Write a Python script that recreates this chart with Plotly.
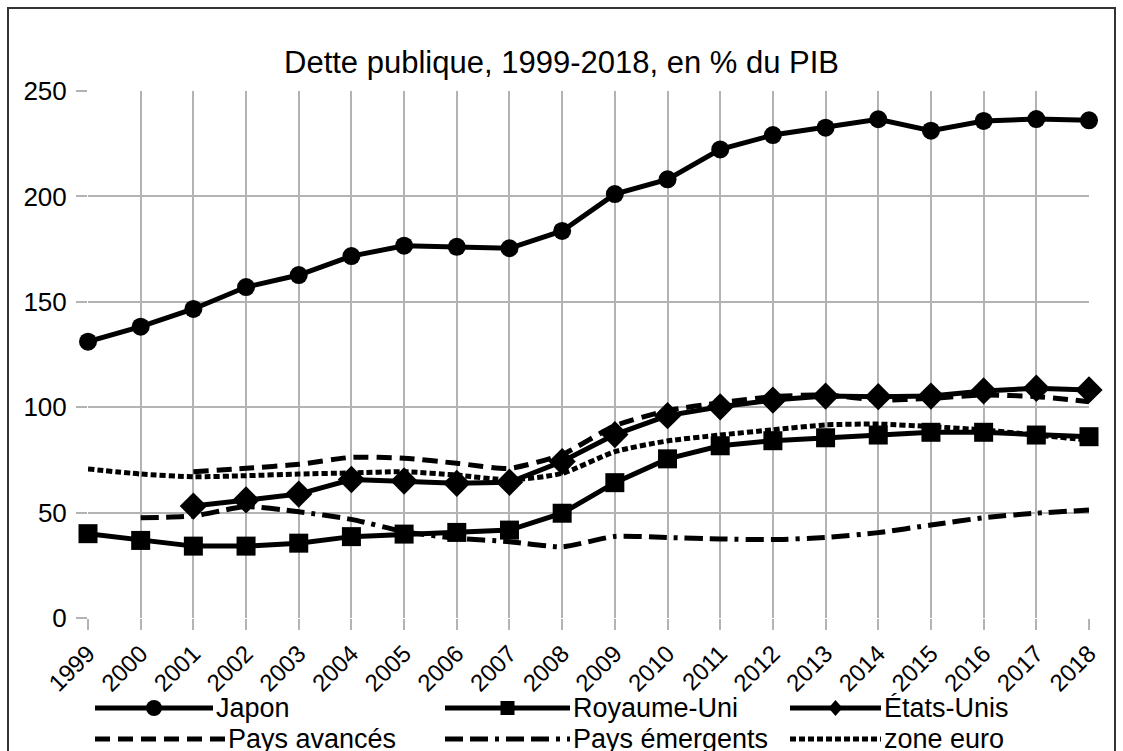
import plotly.graph_objects as go

# Public debt, % of GDP
years = list(range(1999, 2019))
japon = [131.1, 138.2, 146.6, 157.0, 162.7, 171.7, 176.6, 176.1, 175.4, 183.6,
         201.1, 208.1, 222.3, 229.1, 232.6, 236.6, 231.2, 235.8, 236.7, 236.1]
royaume_uni = [40.0, 36.8, 34.1, 34.1, 35.5, 38.6, 39.8, 40.6, 41.7, 49.7,
               64.2, 75.5, 81.7, 84.1, 85.5, 86.8, 88.1, 88.1, 86.8, 86.0]
etats_unis = [None, None, 53.1, 56.0, 58.8, 65.7, 65.0, 63.9, 64.4, 74.2,
              87.0, 96.0, 100.2, 103.4, 105.3, 105.0, 105.3, 107.7, 109.0, 108.2]
pays_avances = [None, None, 69.4, 71.0, 72.9, 76.2, 75.8, 73.4, 71.0, 77.6,
                91.2, 98.4, 102.1, 105.0, 105.8, 103.4, 104.2, 105.8, 105.0, 102.6]
pays_emergents = [None, 47.5, 48.4, 52.8, 50.4, 46.8, 41.0, 37.8, 36.2, 33.8,
                  38.7, 38.2, 37.5, 37.2, 38.2, 40.5, 44.1, 47.6, 49.7, 51.2]
zone_euro = [70.7, 68.3, 67.0, 67.5, 68.3, 68.8, 69.4, 67.8, 65.5, 68.6,
             78.9, 84.0, 86.8, 89.3, 91.6, 92.0, 90.8, 89.2, 86.8, 84.4]

title_text = "Dette publique, 1999-2018, en % du PIB"
y_ticks = [0, 50, 100, 150, 200, 250]

FONT = "Liberation Sans, Arial, sans-serif"
BLACK = "#000000"
GRID = "#b3b3b3"
LW = 5

DASH_AV = "15px,8px"
DASH_EM = "18px,7px,18px,7px,4px,7px"
DASH_EU = "6px,3px"

fig = go.Figure()

# dashed aggregates (smoothed)
for name, vals, dash in [("Pays avancés", pays_avances, DASH_AV),
                         ("Pays émergents", pays_emergents, DASH_EM),
                         ("zone euro", zone_euro, DASH_EU)]:
    fig.add_trace(go.Scatter(
        x=years, y=vals, name=name, mode="lines",
        line=dict(color=BLACK, width=LW, dash=dash, shape="spline", smoothing=0.6),
        connectgaps=False, cliponaxis=False, showlegend=False))

# country series with markers
for name, vals, sym, size in [("Japon", japon, "circle", 18),
                              ("Royaume-Uni", royaume_uni, "square", 19),
                              ("États-Unis", etats_unis, "diamond", 21)]:
    fig.add_trace(go.Scatter(
        x=years, y=vals, name=name, mode="lines+markers",
        line=dict(color=BLACK, width=LW),
        marker=dict(symbol=sym, size=size, color=BLACK),
        cliponaxis=False, showlegend=False))

# plot area geometry (pixels) used for the hand-drawn legend and frame
W, H = 1123, 751
L, R, T, B = 88, 34, 91, 133
pw, ph = W - L - R, H - T - B


def px(xp):
    return (xp - L) / pw


def py(yp):
    return (H - B - yp) / ph


shapes = []
annotations = []

# outer frame
shapes.append(dict(type="rect", xref="paper", yref="paper",
                   x0=px(8), x1=px(1115), y0=py(790), y1=py(8),
                   line=dict(color="#333333", width=2), layer="below"))

# legend entries: (label, dash, marker, line start px, line end px, row y px)
legend_items = [
    ("Japon", "solid", "circle", 95, 213, 708),
    ("Royaume-Uni", "solid", "square", 445, 570, 708),
    ("États-Unis", "solid", "diamond", 790, 881, 708),
    ("Pays avancés", DASH_AV, None, 95, 225, 739),
    ("Pays émergents", DASH_EM, None, 445, 570, 739),
    ("zone euro", DASH_EU, None, 790, 881, 739),
]
for label, dash, mk, x0, x1, yrow in legend_items:
    shapes.append(dict(type="line", xref="paper", yref="paper",
                       x0=px(x0), x1=px(x1), y0=py(yrow), y1=py(yrow),
                       line=dict(color=BLACK, width=LW, dash=dash)))
    xm = px((x0 + x1) / 2)
    ym = py(yrow)
    if mk == "circle":
        shapes.append(dict(type="circle", xref="paper", yref="paper",
                           xsizemode="pixel", ysizemode="pixel",
                           xanchor=xm, yanchor=ym, x0=-8, x1=8, y0=-8, y1=8,
                           fillcolor=BLACK, line=dict(width=0)))
    elif mk == "square":
        shapes.append(dict(type="rect", xref="paper", yref="paper",
                           xsizemode="pixel", ysizemode="pixel",
                           xanchor=xm, yanchor=ym, x0=-7, x1=7, y0=-7, y1=7,
                           fillcolor=BLACK, line=dict(width=0)))
    elif mk == "diamond":
        shapes.append(dict(type="path", xref="paper", yref="paper",
                           xsizemode="pixel", ysizemode="pixel",
                           xanchor=xm, yanchor=ym,
                           path="M 0 8 L 7 0 L 0 -8 L -7 0 Z",
                           fillcolor=BLACK, line=dict(width=0)))
    annotations.append(dict(text=label, xref="paper", yref="paper",
                            x=px(x1 + 1), y=py(yrow), xanchor="left", yanchor="middle",
                            showarrow=False, font=dict(family=FONT, size=27, color=BLACK)))

fig.update_layout(
    width=W, height=H,
    margin=dict(l=L, r=R, t=T, b=B),
    paper_bgcolor="white", plot_bgcolor="white",
    title=dict(text=title_text, x=0.5, xanchor="center", y=1 - 62 / H, yanchor="middle",
               font=dict(family=FONT, size=31, color=BLACK)),
    font=dict(family=FONT, color=BLACK),
    shapes=shapes,
    annotations=annotations,
    showlegend=False,
)

fig.update_xaxes(
    range=[1999, 2018], tickmode="array", tickvals=years,
    ticktext=[str(y) for y in years], tickangle=-45,
    tickfont=dict(family=FONT, size=24, color=BLACK),
    showgrid=True, gridcolor=GRID, gridwidth=1.5,
    ticks="outside", ticklen=11, tickcolor=GRID, tickwidth=1.5,
    showline=False, zeroline=False,
)
fig.update_yaxes(
    range=[0, 250], tickmode="array", tickvals=y_ticks,
    tickfont=dict(family=FONT, size=26, color=BLACK),
    ticklabelstandoff=4,
    showgrid=True, gridcolor=GRID, gridwidth=1.5,
    ticks="outside", ticklen=11, tickcolor=GRID, tickwidth=1.5,
    showline=False, zeroline=False,
)

fig.write_html("out.html")
